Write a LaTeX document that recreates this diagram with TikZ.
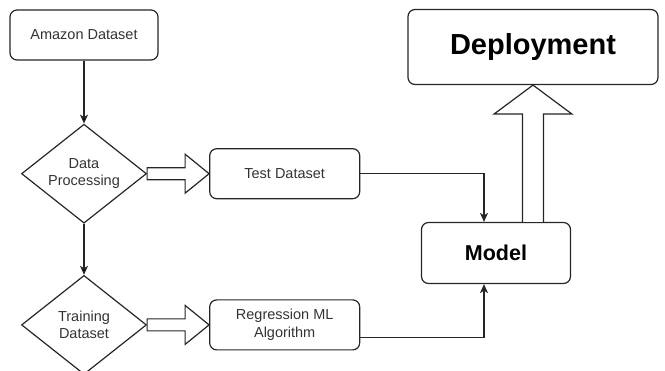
\documentclass[tikz,border=0pt]{standalone}
\usepackage{fontspec}
\setmainfont{Liberation Sans}
\usetikzlibrary{positioning}
\usetikzlibrary{shapes.geometric}
\usetikzlibrary{arrows.meta}
\usetikzlibrary{calc}

\begin{document}
\begin{tikzpicture}[x=1pt, y=1pt]

\useasboundingbox (0, 0) rectangle (665, -371);

\def\BoxWidth{150pt}
\def\BoxHeight{50pt}
\def\ShaftHalf{6pt}
\def\HeadHalf{19.5pt}
\def\HeadLength{24pt}

% Styles
\tikzstyle{box} =
	[text centered, align=center, text=black!80,
	 font=\fontsize{14.5}{17.5}\selectfont]

\tikzstyle{module} =
	[box, draw=black!85, line width=1.2pt, rounded corners=7pt,
	 minimum width=\BoxWidth, minimum height=\BoxHeight]

\tikzstyle{decision} =
	[box, draw=black!85, line width=1.2pt, diamond, aspect=1.26,
	 inner sep=1pt, minimum width=125pt, minimum height=99pt]

\tikzstyle{hollow} =
	[draw=black!85, line width=1.2pt, fill=white, line join=miter]

% Modules

\node (AmazonDataset) at (84, -35)
	[module, minimum width=148pt] {Amazon Dataset};
\node (DataProcessing) [decision, below=63pt of AmazonDataset] {Data\\Processing};
\node (TrainingDataset) [decision, below=51pt of DataProcessing] {Training\\Dataset};

\node (TestDataset) [module, right=62pt of DataProcessing] {Test Dataset};
\node (RegressionML) [module, right=62pt of TrainingDataset] {Regression ML\\Algorithm};

\node (Model) at (496, -253)
	[module, minimum width=149pt, minimum height=61pt, text=black,
	 font=\fontsize{21.5}{26}\bfseries] {Model};
\node (Deployment) at (533, -47)
	[module, minimum width=250pt, minimum height=75pt, text=black,
	 font=\fontsize{29}{34}\bfseries] {Deployment};

% Edges

\tikzstyle{flow} =
	[draw=black!85, line width=1.2pt,
	 -{Stealth[length=9pt, width=8pt, inset=2.5pt]}]

\path[flow]
	(AmazonDataset) edge (DataProcessing)
	(DataProcessing) edge (TrainingDataset);

\draw[flow] (TestDataset.east) -| ([xshift=-12pt]Model.north);
\draw[flow] ([yshift=-13pt]RegressionML.east) -| ([xshift=-12pt]Model.south);

% Block arrows

\draw[hollow]
	($(DataProcessing.east) + (0, \ShaftHalf)$)
	-- ($(TestDataset.west) + (-\HeadLength, \ShaftHalf)$)
	-- ($(TestDataset.west) + (-\HeadLength, \HeadHalf)$)
	-- (TestDataset.west)
	-- ($(TestDataset.west) + (-\HeadLength, -\HeadHalf)$)
	-- ($(TestDataset.west) + (-\HeadLength, -\ShaftHalf)$)
	-- ($(DataProcessing.east) + (0, -\ShaftHalf)$) -- cycle;

\draw[hollow]
	($(TrainingDataset.east) + (0, \ShaftHalf)$)
	-- ($(RegressionML.west) + (-\HeadLength, \ShaftHalf)$)
	-- ($(RegressionML.west) + (-\HeadLength, \HeadHalf)$)
	-- (RegressionML.west)
	-- ($(RegressionML.west) + (-\HeadLength, -\HeadHalf)$)
	-- ($(RegressionML.west) + (-\HeadLength, -\ShaftHalf)$)
	-- ($(TrainingDataset.east) + (0, -\ShaftHalf)$) -- cycle;

\draw[hollow]
	($(Model.north -| Deployment.south) + (-10.5pt, 0)$)
	-- ($(Deployment.south) + (-10.5pt, -29pt)$)
	-- ($(Deployment.south) + (-39pt, -29pt)$)
	-- (Deployment.south)
	-- ($(Deployment.south) + (39pt, -29pt)$)
	-- ($(Deployment.south) + (10.5pt, -29pt)$)
	-- ($(Model.north -| Deployment.south) + (10.5pt, 0)$);

\end{tikzpicture}
\end{document}
